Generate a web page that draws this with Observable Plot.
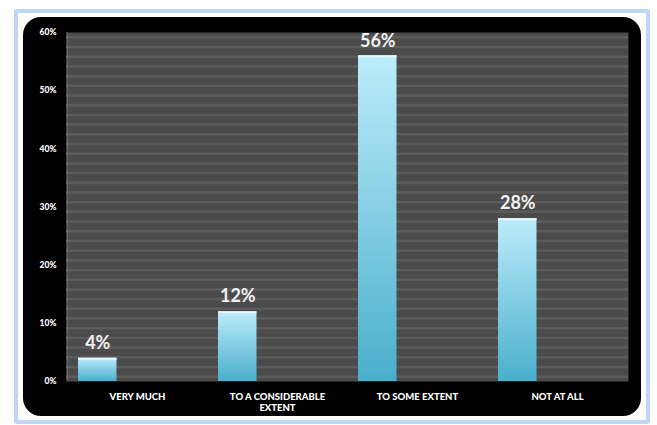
<!DOCTYPE html>
<html>
<head>
<meta charset="utf-8">
<script src="https://cdn.jsdelivr.net/npm/d3@7"></script>
<script src="https://cdn.jsdelivr.net/npm/@observablehq/plot@0.6"></script>
<style>
  html, body { margin: 0; padding: 0; background: #ffffff; }
  #wrap { position: relative; width: 657px; height: 425px; overflow: hidden; background: #ffffff; }
  #frame { position: absolute; left: 14px; top: 9px; width: 628px; height: 407px;
           border: 4px solid #bcd6f3; border-radius: 3px; background: #ffffff; }
  #panel { position: absolute; left: 23px; top: 17px; width: 618px; height: 399px;
           background: #000000; border-radius: 18px; }
  #chart { position: absolute; left: 0; top: 0; }
</style>
</head>
<body>
<div id="wrap">
  <div id="frame"></div>
  <div id="panel"></div>
  <div id="chart"></div>
</div>
<script>
const categories = ["Very much", "To a considerable extent", "To some extent", "Not at all"];
const values = [4, 12, 56, 28];
const tickLabels = ["VERY MUCH", "TO A CONSIDERABLE\nEXTENT", "TO SOME EXTENT", "NOT AT ALL"];
const yTicks = [0, 10, 20, 30, 40, 50, 60];

const data = categories.map((c, i) => ({category: c, value: values[i]}));
const stripes = d3.range(0, 60, 5 / 3).map(v => v + 5 / 6);

const font = "Lato, 'Open Sans', sans-serif";

const chart = Plot.plot({
  width: 657,
  height: 425,
  marginLeft: 66,
  marginRight: 29,
  marginTop: 32,
  marginBottom: 44,
  style: {background: "transparent", fontFamily: font, color: "#ffffff"},
  x: {domain: categories, padding: 0, label: null},
  y: {domain: [0, 60], label: null},
  marks: [
    Plot.frame({fill: "#4b4b4b", stroke: null}),
    Plot.ruleY(stripes, {stroke: "#5c5c5c", strokeWidth: 2.5}),
    Plot.ruleX([0], {x: () => categories[0], dx: -70.25, stroke: "#777777", strokeWidth: 1}),
    Plot.barY(data, {x: "category", y: "value", fill: "url(#barGrad)", insetLeft: 11, insetRight: 90.5}),
    Plot.barY(data, {x: "category", y1: "value", y2: d => d.value - 0.35, fill: "#e6f8ff", insetLeft: 11, insetRight: 90.5}),
    Plot.text(data, {x: "category", y: "value", text: d => d.value + "%", dx: -39.75, dy: -15,
      fill: "#f2f2f2", fontSize: 18, fontWeight: "bold", fontFamily: font}),
    Plot.axisY({ticks: yTicks, tickFormat: d => d + "%", tickSize: 0, tickPadding: 10,
      fontSize: 8.5, fontWeight: 900, fill: "#ffffff"}),
    Plot.axisX({tickFormat: (d, i) => tickLabels[categories.indexOf(d)], tickSize: 0, tickPadding: 11,
      fontSize: 9.5, fontWeight: 900, fill: "#ffffff", lineHeight: 1.15})
  ]
});

const ns = "http://www.w3.org/2000/svg";
const defs = document.createElementNS(ns, "defs");
const grad = document.createElementNS(ns, "linearGradient");
grad.setAttribute("id", "barGrad");
grad.setAttribute("x1", "0"); grad.setAttribute("y1", "0");
grad.setAttribute("x2", "0"); grad.setAttribute("y2", "1");
[["0%", "#bcecfb"], ["100%", "#4aafcc"]].forEach(([o, c]) => {
  const s = document.createElementNS(ns, "stop");
  s.setAttribute("offset", o);
  s.setAttribute("stop-color", c);
  grad.appendChild(s);
});
defs.appendChild(grad);
chart.insertBefore(defs, chart.firstChild);

document.getElementById("chart").appendChild(chart);
</script>
</body>
</html>
